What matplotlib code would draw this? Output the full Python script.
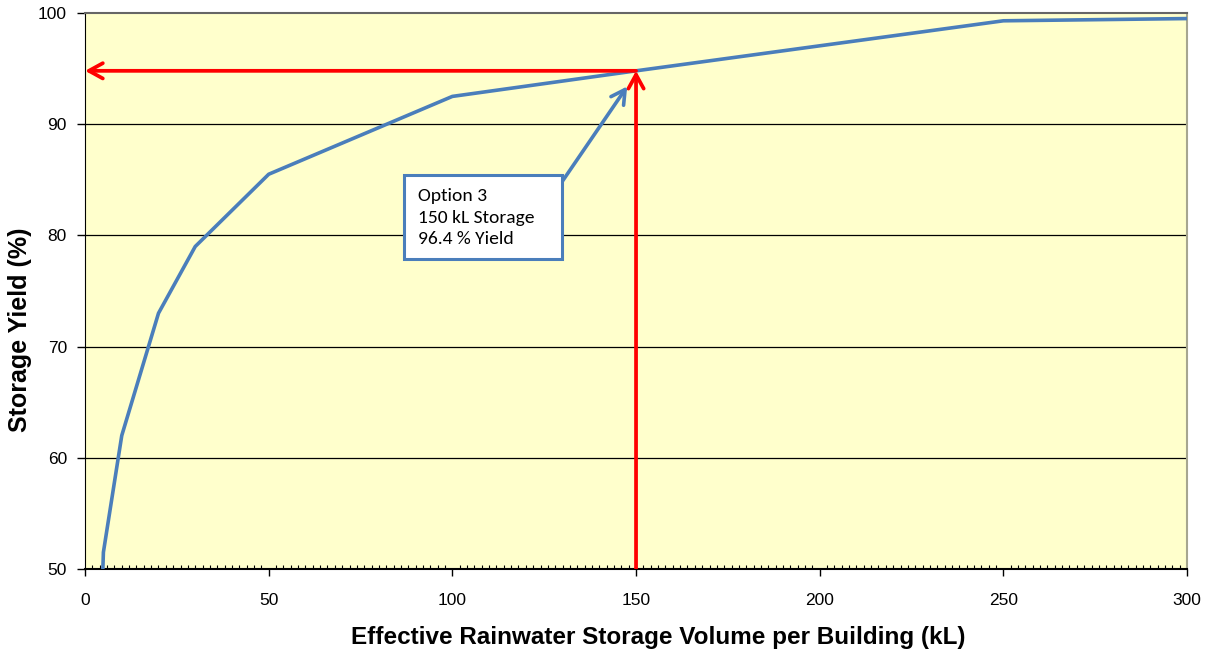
import matplotlib.pyplot as plt
from matplotlib.patches import FancyArrowPatch, Rectangle
from matplotlib.ticker import MultipleLocator

# storage volume (kL) vs yield (%)
volume = [0, 5, 10, 20, 30, 50, 100, 150, 250, 300]
yield_pct = [0, 51.5, 62.0, 73.0, 79.0, 85.5, 92.5, 94.8, 99.3, 99.5]

sel_volume = 150
sel_yield = 94.8
note = "Option 3\n150 kL Storage\n96.4 % Yield"

plt.rcParams['font.family'] = ['Liberation Sans', 'DejaVu Sans']

fig = plt.figure(figsize=(12.13, 6.57), dpi=100)
ax = fig.add_axes([0.0701, 0.134, 0.9085, 0.8462])
ax.set_facecolor('#FFFFCC')

ax.set_xlim(0, 300)
ax.set_ylim(50, 100)
ax.xaxis.set_major_locator(MultipleLocator(50))
ax.xaxis.set_minor_locator(MultipleLocator(2))
ax.yaxis.set_major_locator(MultipleLocator(10))
for yv in [60, 70, 80, 90]:
    ax.axhline(yv, color='black', lw=0.9, zorder=1)

blue = '#4A7EBB'
red = '#FF0000'
head = '->,head_length=10,head_width=5.5'

ax.plot(volume, yield_pct, color=blue, lw=2.6, zorder=3)

# red arrows: up from the x axis, then across to the y axis
ax.add_patch(FancyArrowPatch((sel_volume, 50), (sel_volume, sel_yield),
                             arrowstyle=head, shrinkA=0, shrinkB=0,
                             color=red, lw=2.7, zorder=4))
ax.add_patch(FancyArrowPatch((sel_volume, sel_yield), (0, sel_yield),
                             arrowstyle=head, shrinkA=0, shrinkB=0,
                             color=red, lw=2.7, zorder=4, clip_on=False))

# callout box with blue arrow
ax.add_patch(FancyArrowPatch((129.6, 84.7), (147.6, 93.4),
                             arrowstyle=head, shrinkA=0, shrinkB=0,
                             color=blue, lw=2.6, zorder=4))
ax.add_patch(Rectangle((86.85, 77.9), 43.0, 7.5, fc='white', ec=blue,
                       lw=2.2, zorder=5))
ax.text(90.6, 81.6, note, fontsize=14,
        family=['Carlito', 'Open Sans', 'DejaVu Sans'],
        va='center', ha='left', linespacing=1.45, zorder=6)

ax.tick_params(axis='x', which='major', direction='out', length=5, width=1,
               labelsize=12.5, pad=12)
ax.tick_params(axis='x', which='minor', direction='in', length=3, width=0.8)
ax.tick_params(axis='y', which='major', direction='out', length=6, width=1,
               labelsize=12.5, pad=7)

ax.spines['left'].set_color('black')
ax.spines['bottom'].set_color('black')
ax.spines['bottom'].set_linewidth(1.5)
ax.spines['top'].set_color('#666666')
ax.spines['top'].set_linewidth(1.5)
ax.spines['right'].set_color('#A6A690')
ax.spines['right'].set_linewidth(1.5)

ax.set_xlabel('Effective Rainwater Storage Volume per Building (kL)',
              fontsize=17.5, fontweight='bold')
ax.set_ylabel('Storage Yield (%)', fontsize=18, fontweight='bold')
ax.xaxis.set_label_coords(0.52, -0.124)
ax.xaxis.label.set_va('center')
ax.yaxis.set_label_coords(-0.059, 0.43)
ax.yaxis.label.set_va('center')

fig.savefig('out.png', dpi=100)
